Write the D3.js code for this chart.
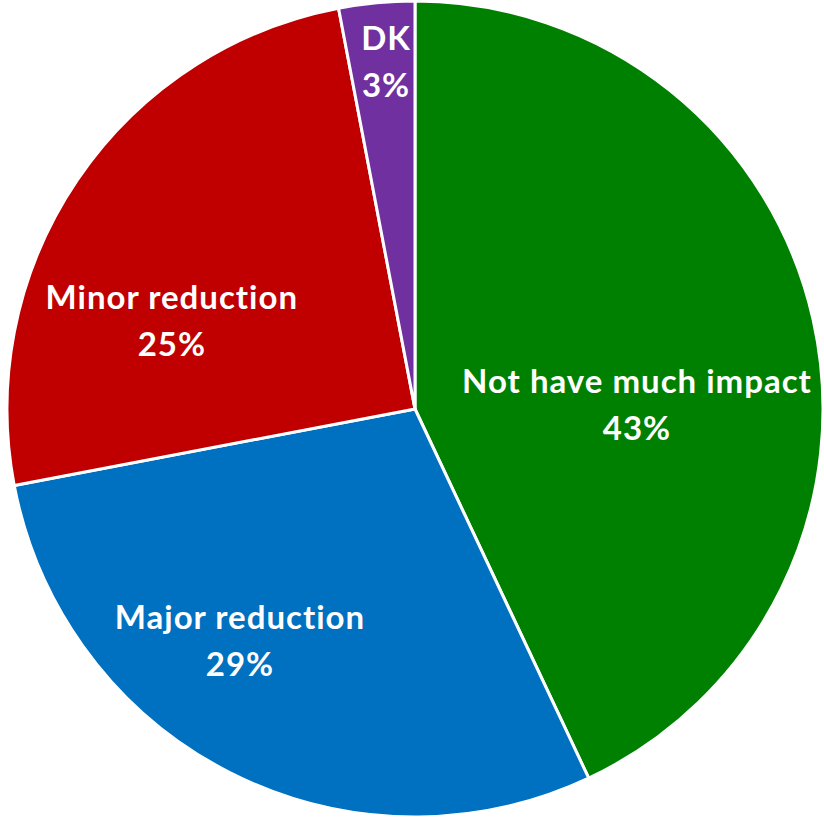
<!DOCTYPE html>
<html>
<head>
<meta charset="utf-8">
<script src="https://cdn.jsdelivr.net/npm/d3@7"></script>
<style>
html,body{margin:0;padding:0;background:#fff;}
svg{display:block;}
</style>
</head>
<body>
<svg id="chart" width="824" height="819"></svg>
<script>
const categories = ["Not have much impact", "Major reduction", "Minor reduction", "DK"];
const values = [43, 29, 25, 3];
const percentLabels = ["43%", "29%", "25%", "3%"];
const colors = ["#008000", "#0070C0", "#C00000", "#7030A0"];
// label placement (fraction of radius, relative to pie center)
const labelPos = [[0.544, -0.014], [-0.429, 0.564], [-0.596, -0.22], [-0.071, -0.855]];

const W = 824, H = 819;
const cx = 415, cy = 409, R = 408;
const svg = d3.select("#chart");
const g = svg.append("g").attr("transform", `translate(${cx},${cy})`);

const data = categories.map((c, i) => ({cat: c, value: values[i], pct: percentLabels[i], color: colors[i], lp: labelPos[i]}));
const pie = d3.pie().sort(null).value(d => d.value);
const arc = d3.arc().innerRadius(0).outerRadius(R);
const arcs = pie(data);

g.selectAll("path.slice").data(arcs).enter().append("path")
  .attr("class", "slice")
  .attr("d", arc)
  .attr("fill", d => d.data.color)
  .attr("stroke", "#fff")
  .attr("stroke-width", 3)
  .attr("stroke-linejoin", "round");

const lbl = g.selectAll("g.lbl").data(arcs).enter().append("g")
  .attr("class", "lbl")
  .attr("transform", d => `translate(${d.data.lp[0] * R},${d.data.lp[1] * R})`);

const font = "Lato, 'Open Sans', sans-serif";
[[-23.5, d => d.data.cat], [23.5, d => d.data.pct]].forEach(([dy, fn]) => {
  lbl.append("text")
    .attr("y", dy)
    .attr("text-anchor", "middle")
    .attr("dominant-baseline", "central")
    .attr("fill", "#fff")
    .attr("font-family", font)
    .attr("font-weight", "bold")
    .attr("font-size", 33)
    .attr("letter-spacing", "1px")
    .text(fn);
});
</script>
</body>
</html>
